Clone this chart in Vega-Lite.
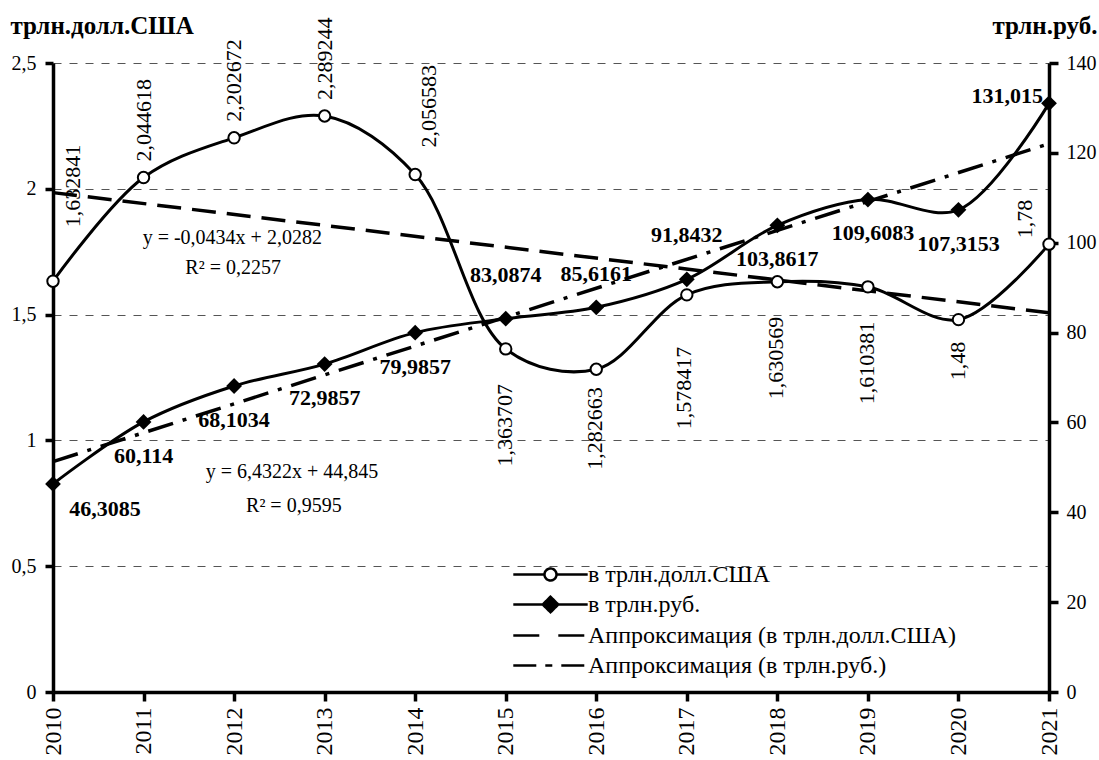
{
  "$schema": "https://vega.github.io/schema/vega-lite/v6.json",
  "width": 996,
  "height": 629,
  "autosize": {"type": "none"},
  "padding": {"left": 53, "top": 63, "right": 50, "bottom": 68},
  "background": "white",
  "config": {
    "font": "Liberation Serif",
    "locale": {"number": {"decimal": ",", "thousands": " ", "grouping": [3], "currency": ["", ""]}},
    "view": {"stroke": null},
    "axis": {"labelColor": "black", "domainColor": "black", "tickColor": "black", "labelFont": "Liberation Serif", "titleFont": "Liberation Serif", "titleColor": "black"},
    "text": {"font": "Liberation Serif", "color": "black"}
  },
  "datasets": {
    "gdp": [
      {"year": 2010, "usd": 1.632841, "rub": 46.3085},
      {"year": 2011, "usd": 2.044618, "rub": 60.114},
      {"year": 2012, "usd": 2.202672, "rub": 68.1034},
      {"year": 2013, "usd": 2.289244, "rub": 72.9857},
      {"year": 2014, "usd": 2.056583, "rub": 79.9857},
      {"year": 2015, "usd": 1.363707, "rub": 83.0874},
      {"year": 2016, "usd": 1.282663, "rub": 85.6161},
      {"year": 2017, "usd": 1.578417, "rub": 91.8432},
      {"year": 2018, "usd": 1.630569, "rub": 103.8617},
      {"year": 2019, "usd": 1.610381, "rub": 109.6083},
      {"year": 2020, "usd": 1.48, "rub": 107.3153},
      {"year": 2021, "usd": 1.78, "rub": 131.015}
    ],
    "trend": [
      {"year": 2010, "usd": 1.9848, "rub": 51.2772},
      {"year": 2021, "usd": 1.5074, "rub": 122.0314}
    ],
    "eq": [
      {"year": 2011.98, "usd": 1.805, "text": "y = -0,0434x + 2,0282"},
      {"year": 2011.99, "usd": 1.685, "text": "R² = 0,2257"},
      {"year": 2012.64, "usd": 0.875, "text": "y = 6,4322x + 44,845"},
      {"year": 2012.66, "usd": 0.741, "text": "R² = 0,9595"}
    ],
    "leg": [
      {"year": 2010, "series": "в трлн.долл.США"},
      {"year": 2010, "series": "в трлн.руб."},
      {"year": 2010, "series": "Аппроксимация (в трлн.долл.США)"},
      {"year": 2010, "series": "Аппроксимация (в трлн.руб.)"}
    ]
  },
  "encoding": {
    "x": {"field": "year", "type": "quantitative", "scale": {"domain": [2010, 2021], "nice": false, "zero": false},
      "axis": {"values": [2010, 2011, 2012, 2013, 2014, 2015, 2016, 2017, 2018, 2019, 2020, 2021], "format": "d", "labelAngle": -90, "labelFontSize": 24, "labelPadding": 6, "labelFlush": false, "labelOverlap": false, "tickSize": 9, "tickWidth": 3.5, "domainWidth": 3.5, "grid": false, "title": null}}
  },
  "layer": [
    {
      "encoding": {
        "y": {"field": "usd", "type": "quantitative", "scale": {"domain": [0, 2.5], "nice": false},
          "axis": {"orient": "left", "values": [0, 0.5, 1, 1.5, 2, 2.5], "format": "~g", "grid": true, "gridDash": [8, 8], "gridColor": "#555555", "gridWidth": 1, "tickSize": 8, "tickWidth": 3.5, "domainWidth": 3.5, "labelFontSize": 20, "labelPadding": 9, "labelFlush": false, "labelOverlap": false, "title": "трлн.долл.США", "titleAngle": 0, "titleAlign": "left", "titleBaseline": "alphabetic", "titleX": -43, "titleY": -30, "titleFontSize": 25, "titleFontWeight": "bold"}}
      },
      "layer": [
        {
          "data": {"name": "trend"},
          "mark": {"type": "line", "color": "black", "strokeWidth": 3.5, "strokeDash": [24, 11]}
        },
        {
          "data": {"name": "gdp"},
          "mark": {"type": "line", "interpolate": "catmull-rom", "color": "black", "strokeWidth": 3}
        },
        {
          "data": {"name": "gdp"},
          "mark": {"type": "point", "shape": "circle", "filled": true, "fill": "white", "stroke": "black", "strokeWidth": 2, "size": 130, "opacity": 1}
        },
        {
          "data": {"name": "gdp"},
          "transform": [{"filter": {"field": "year", "oneOf": [2011, 2012, 2013]}}],
          "mark": {"type": "text", "angle": 270, "align": "left", "baseline": "middle", "dx": 16, "dy": 0, "fontSize": 22},
          "encoding": {"text": {"field": "usd", "type": "quantitative", "format": ".7~g"}}
        },
        {
          "data": {"name": "gdp"},
          "transform": [{"filter": {"field": "year", "oneOf": [2010]}}],
          "mark": {"type": "text", "angle": 270, "align": "left", "baseline": "middle", "dx": 54, "dy": 20, "fontSize": 22},
          "encoding": {"text": {"field": "usd", "type": "quantitative", "format": ".7~g"}}
        },
        {
          "data": {"name": "gdp"},
          "transform": [{"filter": {"field": "year", "oneOf": [2014]}}],
          "mark": {"type": "text", "angle": 270, "align": "left", "baseline": "middle", "dx": 27, "dy": 14, "fontSize": 22},
          "encoding": {"text": {"field": "usd", "type": "quantitative", "format": ".7~g"}}
        },
        {
          "data": {"name": "gdp"},
          "transform": [{"filter": {"field": "year", "oneOf": [2021]}}],
          "mark": {"type": "text", "angle": 270, "align": "left", "baseline": "middle", "dx": 6, "dy": -24, "fontSize": 22},
          "encoding": {"text": {"field": "usd", "type": "quantitative", "format": ".7~g"}}
        },
        {
          "data": {"name": "gdp"},
          "transform": [{"filter": {"field": "year", "oneOf": [2015, 2018, 2019]}}],
          "mark": {"type": "text", "angle": 270, "align": "right", "baseline": "middle", "dx": -35, "dy": -1, "fontSize": 22},
          "encoding": {"text": {"field": "usd", "type": "quantitative", "format": ".7~g"}}
        },
        {
          "data": {"name": "gdp"},
          "transform": [{"filter": {"field": "year", "oneOf": [2016]}}],
          "mark": {"type": "text", "angle": 270, "align": "right", "baseline": "middle", "dx": -18, "dy": -1, "fontSize": 22},
          "encoding": {"text": {"field": "usd", "type": "quantitative", "format": ".7~g"}}
        },
        {
          "data": {"name": "gdp"},
          "transform": [{"filter": {"field": "year", "oneOf": [2017]}}],
          "mark": {"type": "text", "angle": 270, "align": "right", "baseline": "middle", "dx": -52, "dy": -3, "fontSize": 22},
          "encoding": {"text": {"field": "usd", "type": "quantitative", "format": ".7~g"}}
        },
        {
          "data": {"name": "gdp"},
          "transform": [{"filter": {"field": "year", "oneOf": [2020]}}],
          "mark": {"type": "text", "angle": 270, "align": "right", "baseline": "middle", "dx": -22, "dy": 0, "fontSize": 22},
          "encoding": {"text": {"field": "usd", "type": "quantitative", "format": ".7~g"}}
        },
        {
          "data": {"name": "eq"},
          "mark": {"type": "text", "align": "center", "baseline": "middle", "fontSize": 20},
          "encoding": {"text": {"field": "text", "type": "nominal"}}
        }
      ]
    },
    {
      "encoding": {
        "y": {"field": "rub", "type": "quantitative", "scale": {"domain": [0, 140], "nice": false},
          "axis": {"orient": "right", "values": [0, 20, 40, 60, 80, 100, 120, 140], "format": "d", "grid": false, "tickSize": 9, "tickWidth": 3.5, "domainWidth": 3.5, "labelFontSize": 20, "labelPadding": 8, "labelFlush": false, "labelOverlap": false, "title": "трлн.руб.", "titleAngle": 0, "titleAlign": "right", "titleBaseline": "alphabetic", "titleX": 48, "titleY": -30, "titleFontSize": 25, "titleFontWeight": "bold"}}
      },
      "layer": [
        {
          "data": {"name": "trend"},
          "mark": {"type": "line", "color": "black", "strokeWidth": 3.5, "strokeDash": [26, 10, 4, 10]}
        },
        {
          "data": {"name": "gdp"},
          "mark": {"type": "line", "interpolate": "catmull-rom", "color": "black", "strokeWidth": 3}
        },
        {
          "data": {"name": "gdp"},
          "mark": {"type": "point", "shape": "diamond", "filled": true, "fill": "black", "strokeWidth": 0, "size": 250, "opacity": 1}
        },
        {
          "data": {"name": "gdp"},
          "transform": [{"filter": {"field": "year", "oneOf": [2011, 2012, 2013, 2014, 2018, 2020]}}],
          "mark": {"type": "text", "align": "center", "baseline": "middle", "dx": 0, "dy": 34, "fontSize": 22, "fontWeight": "bold"},
          "encoding": {"text": {"field": "rub", "type": "quantitative", "format": ".7~g"}}
        },
        {
          "data": {"name": "gdp"},
          "transform": [{"filter": {"field": "year", "oneOf": [2019]}}],
          "mark": {"type": "text", "align": "center", "baseline": "middle", "dx": 5, "dy": 33, "fontSize": 22, "fontWeight": "bold"},
          "encoding": {"text": {"field": "rub", "type": "quantitative", "format": ".7~g"}}
        },
        {
          "data": {"name": "gdp"},
          "transform": [{"filter": {"field": "year", "oneOf": [2010]}}],
          "mark": {"type": "text", "align": "center", "baseline": "middle", "dx": 52, "dy": 25, "fontSize": 22, "fontWeight": "bold"},
          "encoding": {"text": {"field": "rub", "type": "quantitative", "format": ".7~g"}}
        },
        {
          "data": {"name": "gdp"},
          "transform": [{"filter": {"field": "year", "oneOf": [2015, 2017]}}],
          "mark": {"type": "text", "align": "center", "baseline": "middle", "dx": 0, "dy": -44, "fontSize": 22, "fontWeight": "bold"},
          "encoding": {"text": {"field": "rub", "type": "quantitative", "format": ".7~g"}}
        },
        {
          "data": {"name": "gdp"},
          "transform": [{"filter": {"field": "year", "oneOf": [2016]}}],
          "mark": {"type": "text", "align": "center", "baseline": "middle", "dx": 0, "dy": -33, "fontSize": 22, "fontWeight": "bold"},
          "encoding": {"text": {"field": "rub", "type": "quantitative", "format": ".7~g"}}
        },
        {
          "data": {"name": "gdp"},
          "transform": [{"filter": {"field": "year", "oneOf": [2021]}}],
          "mark": {"type": "text", "align": "right", "baseline": "middle", "dx": -6, "dy": -7, "fontSize": 22, "fontWeight": "bold"},
          "encoding": {"text": {"field": "rub", "type": "quantitative", "format": ".7~g"}}
        }
      ]
    },
    {
      "data": {"name": "leg"},
      "transform": [{"filter": "false"}],
      "mark": {"type": "point", "filled": true, "stroke": "black", "strokeWidth": 2.5, "size": 576, "opacity": 1},
      "encoding": {
        "shape": {"field": "series", "type": "nominal",
          "scale": {"domain": ["в трлн.долл.США", "в трлн.руб.", "Аппроксимация (в трлн.долл.США)", "Аппроксимация (в трлн.руб.)"],
            "range": ["M-3.1,0H-0.5A0.5,0.5,0,1,0,0.5,0A0.5,0.5,0,1,0,-0.5,0M0.5,0H3.1", "M-3.1,0H-0.65L0,-0.65L0.65,0L0,0.65L-0.65,0ZM0.65,0H3.1", "M-3.1,0H3.1", "M-3.1,0H3.1"]},
          "legend": {"orient": "none", "legendX": 484, "legendY": 498, "title": null, "labelFontSize": 24, "labelFont": "Liberation Serif", "labelColor": "black", "labelLimit": 600, "labelOffset": 24, "rowPadding": 4, "padding": 0, "symbolSize": 576, "symbolStrokeWidth": 2.5, "symbolStrokeColor": "black"}},
        "fill": {"field": "series", "type": "nominal",
          "scale": {"domain": ["в трлн.долл.США", "в трлн.руб.", "Аппроксимация (в трлн.долл.США)", "Аппроксимация (в трлн.руб.)"],
            "range": ["white", "black", "white", "white"]},
          "legend": {"orient": "none", "legendX": 484, "legendY": 498, "title": null, "labelFontSize": 24, "labelFont": "Liberation Serif", "labelColor": "black", "labelLimit": 600, "labelOffset": 24, "rowPadding": 4, "padding": 0, "symbolSize": 576, "symbolStrokeWidth": 2.5, "symbolStrokeColor": "black"}},
        "stroke": {"field": "series", "type": "nominal",
          "scale": {"domain": ["в трлн.долл.США", "в трлн.руб.", "Аппроксимация (в трлн.долл.США)", "Аппроксимация (в трлн.руб.)"],
            "range": ["black", "black", "black", "black"]},
          "legend": {"orient": "none", "legendX": 484, "legendY": 498, "title": null, "labelFontSize": 24, "labelFont": "Liberation Serif", "labelColor": "black", "labelLimit": 600, "labelOffset": 24, "rowPadding": 4, "padding": 0, "symbolSize": 576, "symbolStrokeWidth": 2.5, "symbolStrokeColor": "black"}},
        "strokeDash": {"field": "series", "type": "nominal",
          "scale": {"domain": ["в трлн.долл.США", "в трлн.руб.", "Аппроксимация (в трлн.долл.США)", "Аппроксимация (в трлн.руб.)"],
            "range": [[1, 0], [1, 0], [26, 19], [23, 9, 7, 9]]},
          "legend": {"orient": "none", "legendX": 484, "legendY": 498, "title": null, "labelFontSize": 24, "labelFont": "Liberation Serif", "labelColor": "black", "labelLimit": 600, "labelOffset": 24, "rowPadding": 4, "padding": 0, "symbolSize": 576, "symbolStrokeWidth": 2.5, "symbolStrokeColor": "black"}}
      }
    }
  ],
  "resolve": {"scale": {"y": "independent"}}
}
